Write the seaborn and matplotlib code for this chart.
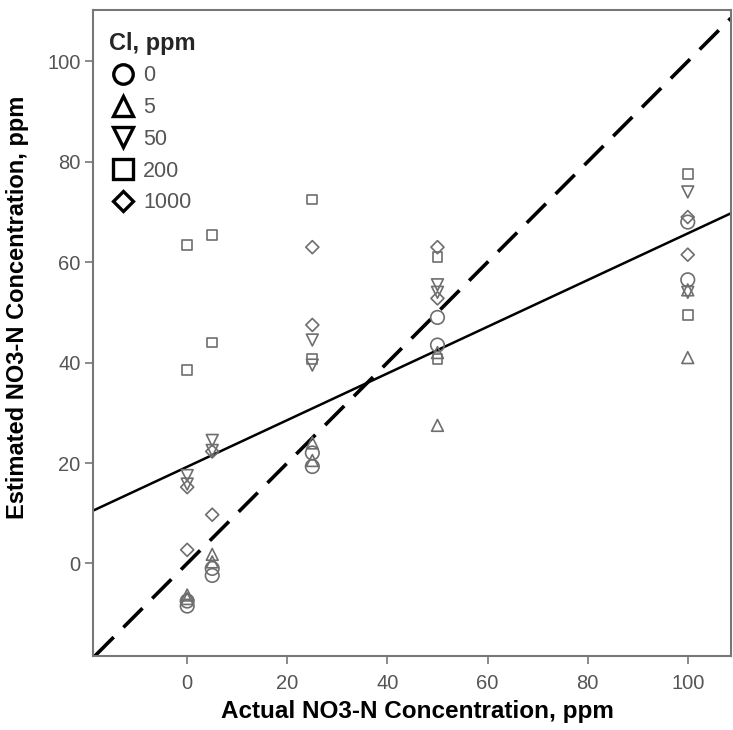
import numpy as np
import pandas as pd
import matplotlib
matplotlib.use("Agg")
import matplotlib.pyplot as plt
from matplotlib.lines import Line2D
import seaborn as sns

# ---- data ----
actual = [0, 0, 5, 5, 25, 25, 50, 50, 100, 100]
cl_levels = ["0", "5", "50", "200", "1000"]
cl_0 = [-7.5, -8.5, -1.0, -2.4, 22.0, 19.3, 49.0, 43.5, 68.0, 56.5]
cl_5 = [-6.3, -7.0, 1.8, 0.3, 24.0, 20.5, 42.0, 27.5, 54.5, 41.0]
cl_50 = [17.5, 15.8, 24.5, 22.5, 44.5, 39.5, 55.5, 54.0, 74.0, 54.0]
cl_200 = [63.5, 38.5, 65.5, 44.0, 72.5, 40.8, 61.0, 40.8, 77.5, 49.5]
cl_1000 = [15.2, 2.7, 22.3, 9.7, 63.0, 47.5, 63.0, 52.8, 69.0, 61.5]
x_ticks = [0, 20, 40, 60, 80, 100]
y_ticks = [0, 20, 40, 60, 80, 100]

series = {"0": cl_0, "5": cl_5, "50": cl_50, "200": cl_200, "1000": cl_1000}
df = pd.concat(
    [pd.DataFrame({"actual": actual, "estimated": v, "Cl": k}) for k, v in series.items()],
    ignore_index=True,
)

sns.set_style("white")
plt.rcParams["font.family"] = ["Liberation Sans", "DejaVu Sans"]

fig = plt.figure(figsize=(7.33, 7.30), dpi=100)
ax = fig.add_axes([0.127, 0.101, 0.870, 0.885])
ax.set_xlim(-18.8, 108.6)
ax.set_ylim(-18.5, 110.2)

markers = {"0": "o", "5": "^", "50": "v", "200": "s", "1000": "D"}
sizes = {"0": 95, "5": 72, "50": 72, "200": 50, "1000": 44}
pt_gray = "#6e6e6e"
for lvl in cl_levels:
    sub = df[df["Cl"] == lvl]
    sns.scatterplot(data=sub, x="actual", y="estimated", marker=markers[lvl],
                    s=sizes[lvl], facecolor="none", edgecolor=pt_gray,
                    linewidth=1.2, ax=ax, legend=False, zorder=3)

# identity line
ax.axline((0, 0), slope=1, color="black", lw=2.6, dashes=(7.5, 3.8), zorder=2)
# fit line (OLS over all points)
sns.regplot(data=df, x="actual", y="estimated", scatter=False, ci=None,
            truncate=False, color="black", line_kws={"lw": 1.8, "zorder": 2}, ax=ax)
ax.set_xlim(-18.8, 108.6)
ax.set_ylim(-18.5, 110.2)

ax.set_xticks(x_ticks)
ax.set_yticks(y_ticks)
ax.tick_params(axis="both", which="major", direction="out", length=6, width=1.2,
               color="#777777", labelcolor="#555555", labelsize=14.5,
               bottom=True, left=True)
ax.tick_params(axis="x", pad=7)
ax.tick_params(axis="y", pad=3)
for sp in ax.spines.values():
    sp.set_color("#777777")
    sp.set_linewidth(1.5)

ax.set_xlabel("Actual NO3-N Concentration, ppm", fontsize=17.5, fontweight="bold",
              color="black")
ax.set_ylabel("Estimated NO3-N Concentration, ppm", fontsize=17, fontweight="bold",
              color="black")
ax.xaxis.set_label_coords(0.508, -0.068)
ax.yaxis.set_label_coords(-0.1, 0.54)

handles = [Line2D([], [], ls="none", marker=markers[l], markersize=14 if l != "1000" else 10.5,
                  markerfacecolor="none", markeredgecolor="black", markeredgewidth=2.4)
           for l in cl_levels]
leg = ax.legend(handles, cl_levels, title="Cl, ppm", loc="upper left",
                bbox_to_anchor=(-0.006, 0.997), frameon=False, fontsize=15.5,
                labelspacing=0.5, handletextpad=0.3, handlelength=1.3,
                alignment="left",
                title_fontproperties={"weight": "bold", "size": 17})
for t in leg.get_texts():
    t.set_color("#555555")

fig.savefig("out.png", dpi=100)
